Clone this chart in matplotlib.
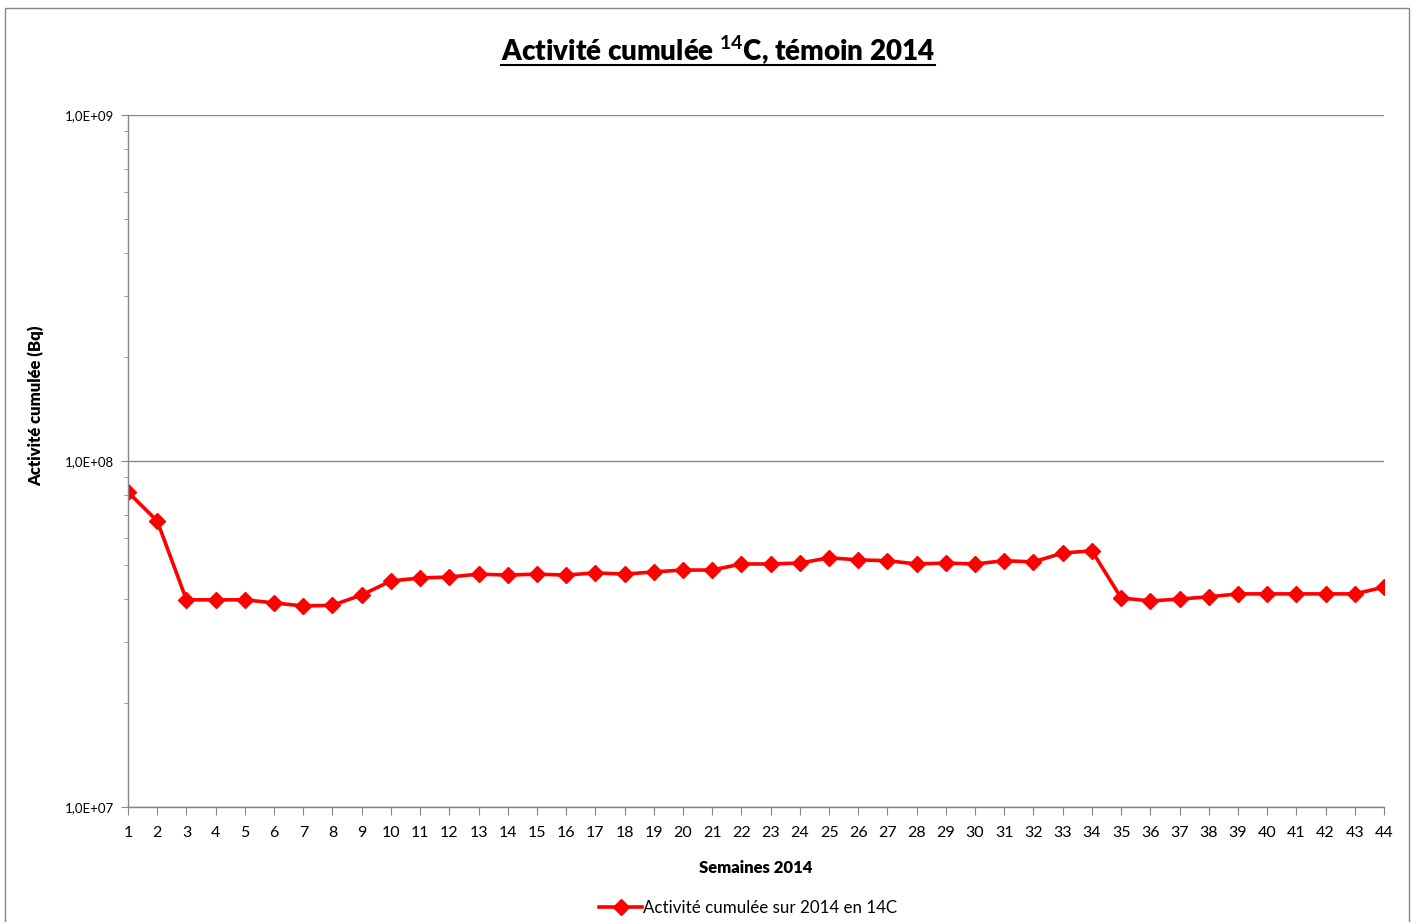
import matplotlib.pyplot as plt
from matplotlib.ticker import FixedLocator, LogLocator, NullFormatter
from matplotlib.lines import Line2D
from matplotlib.patches import Rectangle

plt.rcParams['font.family'] = ['Lato', 'DejaVu Sans']
plt.rcParams['mathtext.fontset'] = 'custom'
plt.rcParams['mathtext.rm'] = 'Lato'
plt.rcParams['mathtext.bf'] = 'Lato:bold'

# semaines 2014
semaines = list(range(1, 45))
# activite cumulee en Bq
activite = [8.13e7, 6.71e7, 3.97e7, 3.97e7, 3.97e7, 3.89e7, 3.81e7, 3.83e7, 4.10e7, 4.50e7,
            4.59e7, 4.62e7, 4.71e7, 4.68e7, 4.71e7, 4.68e7, 4.75e7, 4.71e7, 4.78e7, 4.84e7,
            4.84e7, 5.04e7, 5.04e7, 5.07e7, 5.25e7, 5.18e7, 5.15e7, 5.04e7, 5.07e7, 5.04e7,
            5.15e7, 5.11e7, 5.42e7, 5.50e7, 4.02e7, 3.94e7, 3.99e7, 4.05e7, 4.13e7, 4.13e7,
            4.13e7, 4.13e7, 4.13e7, 4.32e7]
y_ticks = [1e7, 1e8, 1e9]
y_labels = ['1,0E+07', '1,0E+08', '1,0E+09']

grey = '#868686'

fig = plt.figure(figsize=(14.14, 9.22), dpi=100)
ax = fig.add_axes([128 / 1414, 1 - 807 / 922, (1384 - 128) / 1414, (807 - 115) / 922])

line, = ax.plot(semaines, activite, color='#ff0000', lw=2.6, marker='D', ms=8,
                label='Activité cumulée sur 2014 en 14C')

ax.set_yscale('log')
ax.set_ylim(1e7, 1e9)
ax.set_xlim(1, 44)
ax.yaxis.set_major_locator(FixedLocator(y_ticks))
ax.set_yticklabels(y_labels, fontsize=9.5)
ax.yaxis.set_minor_locator(LogLocator(base=10, subs=range(2, 10)))
ax.yaxis.set_minor_formatter(NullFormatter())
ax.set_xticks(semaines)
ax.set_xticklabels([str(s) for s in semaines], fontsize=11.5)

ax.grid(axis='y', which='major', color=grey, lw=1)
ax.set_axisbelow(True)
for s in ['top', 'right']:
    ax.spines[s].set_visible(False)
for s in ['left', 'bottom']:
    ax.spines[s].set_color(grey)
    ax.spines[s].set_linewidth(1)
ax.tick_params(axis='y', which='major', length=5, color=grey, pad=5)
ax.tick_params(axis='y', which='minor', length=3, color=grey)
ax.tick_params(axis='x', which='major', length=6, color=grey, pad=8)

ax.set_xlabel('Semaines 2014', fontsize=12, fontweight='heavy', labelpad=14)
ax.set_ylabel('Activité cumulée (Bq)', fontsize=12, fontweight='heavy')
ax.yaxis.set_label_coords(-84 / 1256, 0.58)

title = fig.text(718 / 1414, 1 - 50 / 922, r'Activité cumulée $^{\mathbf{14}}$C, témoin 2014',
                 ha='center', va='center', fontsize=20, fontweight='heavy')

fig.legend(handles=[line], loc='center', bbox_to_anchor=(748 / 1414, 1 - 908 / 922),
           frameon=False, fontsize=12.2, handlelength=2.5, handletextpad=0.05)

# cadre du graphique
fig.patches.append(Rectangle((5 / 1414, -0.01), 1404 / 1414, 1 - 8 / 922 + 0.01,
                             transform=fig.transFigure, fill=False, edgecolor=grey, lw=1))

# soulignement du titre
fig.canvas.draw()
bb = title.get_window_extent().transformed(fig.transFigure.inverted())
fig.lines.append(Line2D([bb.x0, bb.x1], [bb.y0 + 0.002, bb.y0 + 0.002],
                        transform=fig.transFigure, color='black', lw=1.5))

fig.savefig('out.png', dpi=100)
